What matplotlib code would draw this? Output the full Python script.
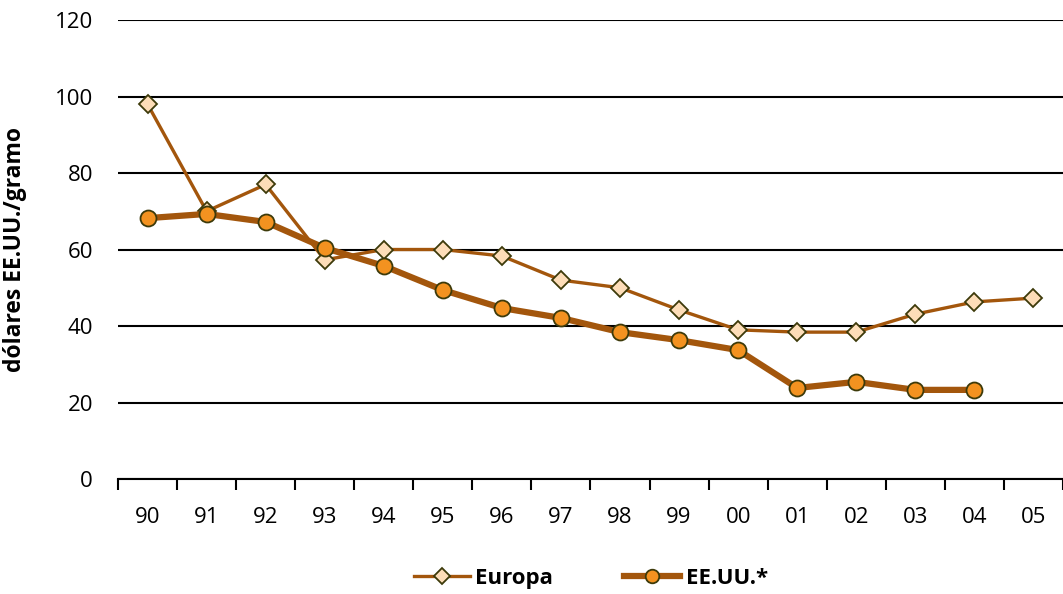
import matplotlib.pyplot as plt

years = ["90", "91", "92", "93", "94", "95", "96", "97", "98", "99",
         "00", "01", "02", "03", "04", "05"]
europa = [98, 70, 77, 57.3, 60, 60, 58.3, 52, 50, 44.2, 39, 38.4, 38.4, 43.1, 46.3, 47.3]
eeuu = [68.2, 69.3, 67.2, 60.4, 55.7, 49.4, 44.7, 42.1, 38.4, 36.3, 33.7, 23.8, 25.4, 23.3, 23.3]

plt.rcParams['font.family'] = ['Open Sans', 'DejaVu Sans']

brown = "#A3560C"
edge = "#3D3A0A"

fig = plt.figure(figsize=(10.63, 5.94), dpi=100)
ax = fig.add_axes([0.111, 0.1936, 0.889, 0.7727])

x_eu = range(len(europa))
x_us = range(len(eeuu))
ax.plot(x_eu, europa, color=brown, lw=2.4, marker="D", markersize=9.5,
        markerfacecolor="#FDDDB8", markeredgecolor=edge, markeredgewidth=1.3,
        label="Europa", zorder=3)
ax.plot(x_us, eeuu, color=brown, lw=4.5, marker="o", markersize=11.5,
        markerfacecolor="#F39220", markeredgecolor=edge, markeredgewidth=1.3,
        label="EE.UU.*", zorder=4)

ax.set_ylim(0, 120)
ax.set_xlim(-0.5, len(years) - 0.5)
ax.set_yticks(range(0, 121, 20))
ax.yaxis.grid(True, color="black", lw=1.5)
ax.set_axisbelow(True)
ax.tick_params(axis="y", length=0, labelsize=16, pad=18)

ax.set_xticks(range(len(years)))
ax.set_xticklabels(years)
ax.set_xticks([i - 0.5 for i in range(len(years) + 1)], minor=True)
ax.tick_params(axis="x", which="major", length=0, labelsize=16, pad=20)
ax.tick_params(axis="x", which="minor", length=8, width=1.5, direction="out")

for s in ["top", "right", "left"]:
    ax.spines[s].set_visible(False)
ax.spines["bottom"].set_linewidth(1.5)

ax.set_ylabel("dólares EE.UU./gramo", fontsize=16.5, fontweight="bold", labelpad=20)

fig.legend(loc="center", bbox_to_anchor=(0.556, 0.026), ncol=2,
           frameon=False, handlelength=2.5, columnspacing=3.2, handletextpad=0.25,
           prop={"size": 16, "weight": "bold"}, markerscale=0.85)

fig.savefig("out.png", dpi=100)
